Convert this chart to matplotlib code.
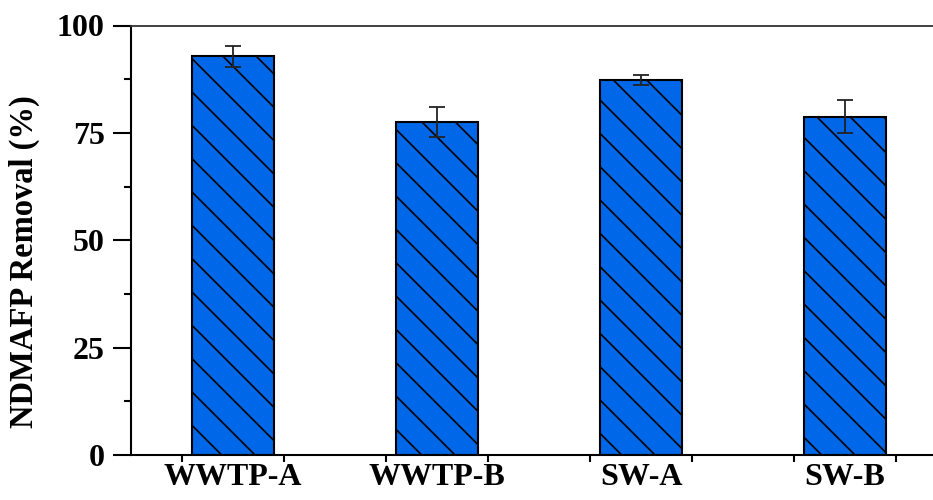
import matplotlib
matplotlib.use("Agg")
import matplotlib.pyplot as plt
from matplotlib.ticker import MultipleLocator, FixedLocator

plt.rcParams['font.family'] = ['Liberation Serif', 'DejaVu Serif']
plt.rcParams['font.weight'] = 'bold'
plt.rcParams['hatch.linewidth'] = 1.2
plt.rcParams['hatch.color'] = 'black'

# NDMA formation potential removal by sample
categories = ["WWTP-A", "WWTP-B", "SW-A", "SW-B"]
removal = [92.8, 77.5, 87.3, 78.8]
removal_sd = [2.4, 3.5, 1.1, 3.8]
y_ticks = [0, 25, 50, 75, 100]

fig = plt.figure(figsize=(9.33, 5.0), dpi=100)
ax = fig.add_axes([131 / 933, 45 / 500, (947 - 131) / 933, (455 - 25.5) / 500])

x = list(range(len(categories)))
ax.bar(x, removal, width=0.4, color="#0068E8", edgecolor="black",
       linewidth=1.5, hatch="\\", zorder=2)
ax.errorbar(x, removal, yerr=removal_sd, fmt="none", ecolor="#222222",
            elinewidth=1.3, capsize=6, capthick=1.3, zorder=3)

ax.set_xlim(-0.5, 3.5)
ax.set_ylim(0, 100)
ax.set_yticks(y_ticks)
ax.yaxis.set_minor_locator(MultipleLocator(12.5))
ax.set_xticks(x)
ax.set_xticklabels(categories)
ax.xaxis.set_minor_locator(FixedLocator([i + d for i in x for d in (-0.25, 0.25)]))

for side in ("left", "bottom"):
    ax.spines[side].set_linewidth(1.5)
ax.spines["top"].set_linewidth(1.3)
ax.spines["top"].set_color("#333333")
ax.spines["right"].set_visible(False)

ax.tick_params(axis="y", which="major", direction="out", length=13, width=1.5,
               pad=6, labelsize=23)
ax.tick_params(axis="y", which="minor", direction="out", length=5, width=1.5)
ax.tick_params(axis="x", which="major", length=0, pad=6, labelsize=23)
ax.tick_params(axis="x", which="minor", direction="out", length=5, width=1.5)

ax.set_ylabel("NDMAFP Removal (%)", fontsize=23.5, fontweight="bold")
ax.yaxis.set_label_coords(-0.112, 0.45)

fig.savefig("out.png", dpi=100)
